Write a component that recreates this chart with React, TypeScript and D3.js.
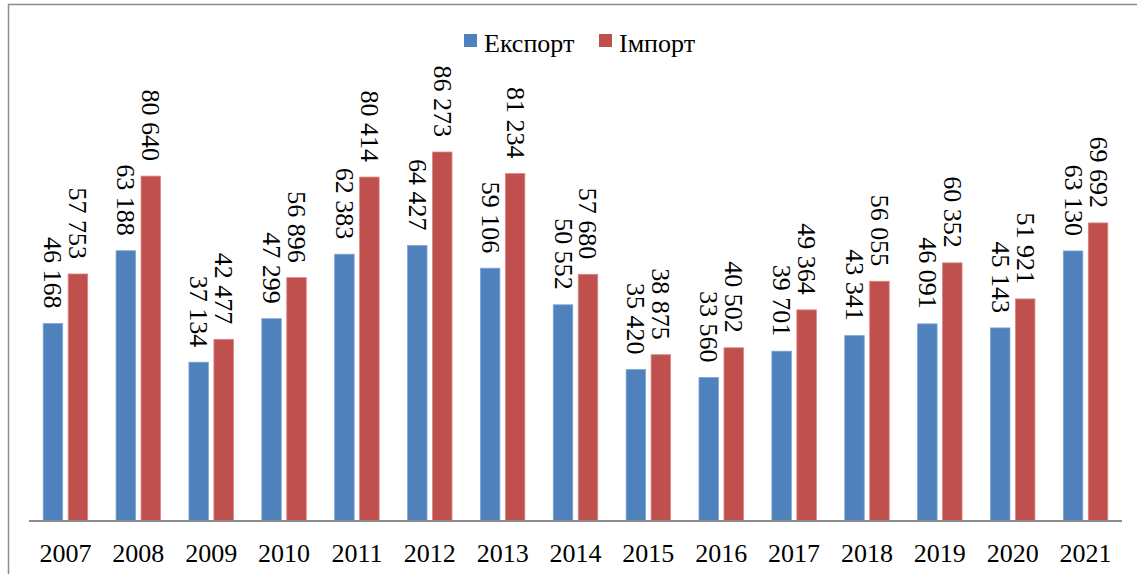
import React from "react";
import * as d3 from "d3";

const years = ["2007","2008","2009","2010","2011","2012","2013","2014","2015","2016","2017","2018","2019","2020","2021"];
const exportValues = [46168, 63188, 37134, 47299, 62383, 64427, 59106, 50552, 35420, 33560, 39701, 43341, 46091, 45143, 63130];
const importValues = [57753, 80640, 42477, 56896, 80414, 86273, 81234, 57680, 38875, 40502, 49364, 56055, 60352, 51921, 69692];
const seriesNames = ["Експорт", "Імпорт"];
const seriesColors = ["#4F81BD", "#C0504D"];

const W = 1137, H = 574;
const FONT = "Liberation Serif";

const fmt = (v: number) => {
  const s = String(v);
  return s.length > 3 ? s.slice(0, s.length - 3) + " " + s.slice(-3) : s;
};

export default function App() {
  const x = d3.scaleBand<string>().domain(years).range([29, 1122]).paddingInner(0.39).paddingOuter(0.195);
  const xs = d3.scaleBand<string>().domain(seriesNames).range([0, x.bandwidth()]).paddingInner(0.22);
  const y = d3.scaleLinear().domain([0, 90000]).range([521, 521 - 90000 * 0.004277]);
  const data = [exportValues, importValues];
  const ts = { fontFamily: FONT };

  return (
    <svg width={W} height={H} style={{ position: "absolute", left: 0, top: 0, background: "#fff" }}>
      <rect x={8.5} y={4.5} width={1140} height={590} fill="#fff" stroke="#8c8c8c" strokeWidth={1.5} />
      {data.map((vals, si) =>
        vals.map((v, i) => {
          const bx = (x(years[i]) ?? 0) + (xs(seriesNames[si]) ?? 0);
          const bw = xs.bandwidth();
          const top = y(v);
          return (
            <g key={`${si}-${i}`}>
              <rect x={bx} y={top} width={bw} height={y(0) - top} fill={seriesColors[si]} stroke={si === 0 ? "#7fa3d1" : "#d98583"} strokeWidth={0.8} />
              <text
                transform={`translate(${bx + bw / 2},${top - 15}) rotate(90)`}
                textAnchor="end"
                dominantBaseline="central"
                fontSize={26}
                fill="#000"
                style={ts}
              >
                {fmt(v)}
              </text>
            </g>
          );
        })
      )}
      <line x1={29} x2={1122} y1={521} y2={521} stroke="#8c8c8c" strokeWidth={2} />
      {years.map((yr) => (
        <text key={yr} x={(x(yr) ?? 0) + x.bandwidth() / 2} y={562} textAnchor="middle" fontSize={26} fill="#000" style={ts}>
          {yr}
        </text>
      ))}
      {seriesNames.map((n, i) => {
        const lx = i === 0 ? 464 : 599;
        return (
          <g key={n}>
            <rect x={lx} y={34} width={13} height={13} fill={seriesColors[i]} />
            <text x={lx + 20} y={52} fontSize={26} fill="#000" style={ts}>{n}</text>
          </g>
        );
      })}
    </svg>
  );
}
